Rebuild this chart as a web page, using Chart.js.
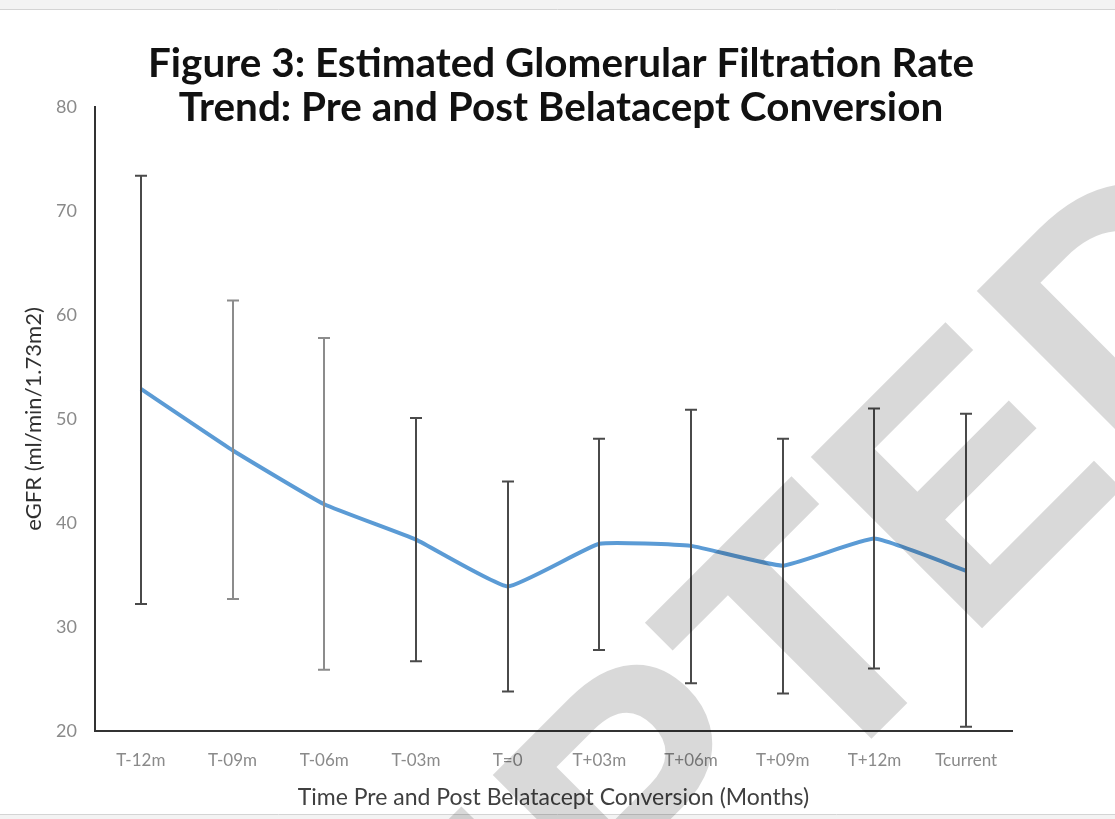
<!DOCTYPE html>
<html>
<head>
<meta charset="utf-8">
<script src="https://cdn.jsdelivr.net/npm/chart.js@4.4.1/dist/chart.umd.min.js"></script>
<style>
html,body{margin:0;padding:0;background:#fff;}
#wrap{width:1115px;height:819px;position:relative;}
</style>
</head>
<body>
<div id="wrap"><canvas id="c" width="1115" height="819"></canvas></div>
<script>
const categories = ['T-12m','T-09m','T-06m','T-03m','T=0','T+03m','T+06m','T+09m','T+12m','Tcurrent'];
const meanEGFR  = [52.9, 47.0, 41.8, 38.4, 33.9, 38.0, 37.8, 35.9, 38.5, 35.4];
const upperEGFR = [73.4, 61.4, 57.8, 50.1, 44.0, 48.1, 50.9, 48.1, 51.0, 50.5];
const lowerEGFR = [32.2, 32.7, 25.9, 26.7, 23.8, 27.8, 24.6, 23.6, 26.0, 20.4];
const yTicks = [20, 30, 40, 50, 60, 70, 80];
const titleLines = ['Figure 3: Estimated Glomerular Filtration Rate', 'Trend: Pre and Post Belatacept Conversion'];
const yTitle = 'eGFR (ml/min/1.73m2)';
const xTitle = 'Time Pre and Post Belatacept Conversion (Months)';
const watermark = 'ACCEPTED';
const errBarColors = ['#4a4a4a','#8c8c8c','#8c8c8c','#4a4a4a','#4a4a4a','#4a4a4a','#4a4a4a','#4a4a4a','#4a4a4a','#4a4a4a'];

const frame = {
  id: 'frame',
  beforeDraw(chart) {
    const ctx = chart.ctx;
    ctx.save();
    ctx.fillStyle = '#ffffff';
    ctx.fillRect(0, 0, chart.width, chart.height);
    ctx.fillStyle = '#f3f3f3';
    ctx.fillRect(0, 0, chart.width, 9);
    ctx.fillRect(0, 815, chart.width, 4);
    ctx.strokeStyle = '#d4d4d4';
    ctx.lineWidth = 1;
    ctx.beginPath(); ctx.moveTo(0, 9.5); ctx.lineTo(chart.width, 9.5); ctx.stroke();
    ctx.beginPath(); ctx.moveTo(0, 814.5); ctx.lineTo(chart.width, 814.5); ctx.stroke();
    ctx.restore();
  }
};

const errorBars = {
  id: 'errorBars',
  afterDatasetsDraw(chart) {
    const ctx = chart.ctx;
    const xs = chart.scales.x, ys = chart.scales.y;
    ctx.save();
    ctx.lineWidth = 2;
    categories.forEach((c, i) => {
      const x = Math.round(xs.getPixelForValue(i));
      const yt = ys.getPixelForValue(upperEGFR[i]);
      const yb = ys.getPixelForValue(lowerEGFR[i]);
      ctx.strokeStyle = errBarColors[i];
      ctx.beginPath();
      ctx.moveTo(x, yt); ctx.lineTo(x, yb);
      ctx.moveTo(x - 6, yt); ctx.lineTo(x + 6, yt);
      ctx.moveTo(x - 6, yb); ctx.lineTo(x + 6, yb);
      ctx.stroke();
    });
    ctx.restore();
  }
};

const titleAndMark = {
  id: 'titleAndMark',
  afterDraw(chart) {
    const ctx = chart.ctx;
    // watermark
    ctx.save();
    ctx.globalCompositeOperation = 'multiply';
    ctx.fillStyle = '#d9d9d9';
    ctx.font = 'bold 352px "Liberation Sans", Arial, sans-serif';
    ctx.textAlign = 'center';
    ctx.textBaseline = 'middle';
    ctx.translate(558, 915);
    ctx.rotate(-Math.PI / 4);
    ctx.fillText(watermark, 0, 0);
    ctx.restore();
    // title
    ctx.save();
    ctx.fillStyle = '#111111';
    ctx.font = 'bold 40px Lato, "Open Sans", sans-serif';
    ctx.textAlign = 'center';
    ctx.textBaseline = 'alphabetic';
    const w = ctx.measureText(titleLines[0]).width;
    const sx = 826 / w;
    ctx.translate(561, 0);
    ctx.scale(sx, 1);
    ctx.fillText(titleLines[0], 0, 77);
    ctx.fillText(titleLines[1], 0, 121);
    ctx.restore();
  }
};

new Chart(document.getElementById('c'), {
  type: 'line',
  data: {
    labels: categories,
    datasets: [{
      label: 'eGFR',
      data: meanEGFR,
      borderColor: '#5b9bd5',
      borderWidth: 4,
      pointRadius: 0,
      tension: 0.12,
      fill: false
    }]
  },
  options: {
    responsive: false,
    animation: false,
    events: [],
    layout: { padding: { left: 0, top: 107, right: 103, bottom: 0 } },
    plugins: { legend: { display: false }, tooltip: { enabled: false }, title: { display: false } },
    scales: {
      x: {
        type: 'category',
        offset: true,
        grid: { display: false, drawTicks: false },
        border: { display: true, color: '#333333', width: 2 },
        ticks: { color: '#8a8a8a', font: { family: 'Lato, sans-serif', size: 17 }, padding: 19, maxRotation: 0, autoSkip: false },
        title: { display: true, text: xTitle, color: '#404040', font: { family: 'Lato, sans-serif', size: 23 }, padding: { top: 0, bottom: 8 } },
        afterFit(scale) { scale.height = 88; }
      },
      y: {
        min: 20, max: 80,
        afterBuildTicks(scale) { scale.ticks = yTicks.map(v => ({ value: v })); },
        grid: { display: false, drawTicks: false },
        border: { display: true, color: '#333333', width: 2 },
        ticks: { color: '#8a8a8a', font: { family: 'Lato, sans-serif', size: 18 }, padding: 18 },
        title: { display: true, text: yTitle, color: '#303030', font: { family: 'Lato, sans-serif', size: 22 }, padding: { top: 21, bottom: 0 } },
        afterFit(scale) { scale.width = 95; }
      }
    }
  },
  plugins: [frame, errorBars, titleAndMark]
});
</script>
</body>
</html>
